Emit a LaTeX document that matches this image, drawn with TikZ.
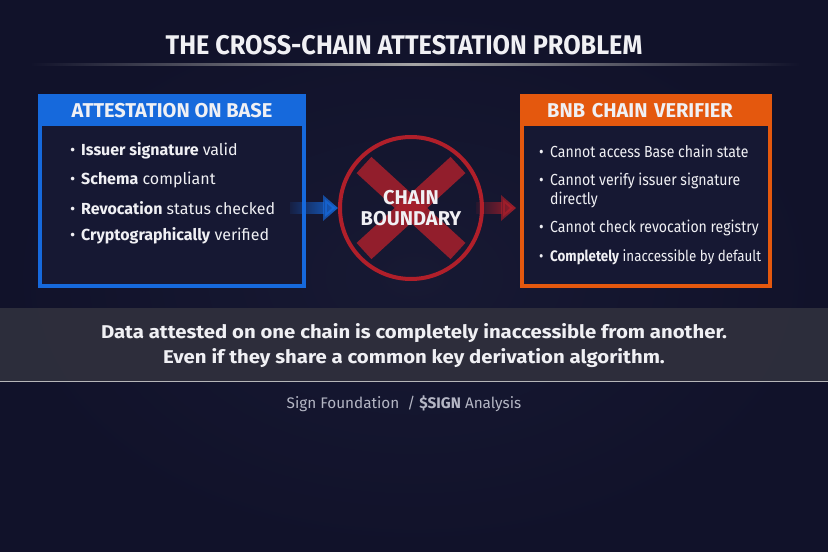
\documentclass[tikz,border=0pt]{standalone}
\usepackage{fontspec}
\setmainfont{Fira Sans}
\newfontfamily\condfont[FakeStretch=0.935]{Fira Sans}
\newfontfamily\narrowfont[FakeStretch=0.88]{Fira Sans}
\newfontfamily\widefont[FakeStretch=1.1]{Fira Sans}
\usetikzlibrary{arrows.meta,fadings,calc}

\definecolor{bgnavy}{HTML}{11122A}
\definecolor{bglight}{HTML}{171933}
\definecolor{panelbg}{HTML}{161833}
\definecolor{baseblue}{HTML}{1669DC}
\definecolor{bnborange}{HTML}{E4580E}
\definecolor{boundred}{HTML}{B01F2A}
\definecolor{xred}{HTML}{A8202C}
\definecolor{bandgray}{HTML}{30303D}
\definecolor{txtwhite}{HTML}{F0F0F4}
\definecolor{footgray}{HTML}{B4B6C4}

\newcommand{\bul}{\makebox[11pt][l]{\textbullet}}
\tikzfading[name=fadeleft, left color=transparent!100, right color=transparent!0]

\begin{document}
\begin{tikzpicture}[x=1pt,y=-1pt,
  panel/.style={draw, line width=4pt, fill=panelbg, minimum width=264,
    minimum height=190, inner sep=0},
  head/.style={anchor=north, minimum width=264, minimum height=32, inner sep=0,
    text=txtwhite, font=\fontsize{20}{22}\selectfont\bfseries},
  item/.style={anchor=west, inner sep=0, text=txtwhite,
    font=\fontsize{16}{18}\selectfont},
  ritem/.style={item, font=\narrowfont\fontsize{16}{18}\selectfont},
  boundary/.style={circle, draw=boundred, line width=4pt, minimum size=142, inner sep=0},
  xmark/.style={xred, line width=22pt, opacity=0.85},
  conn/.style={line width=12pt, -{Triangle[length=15pt,width=25pt]}, path fading=fadeleft}
]
  % background
  \shade[inner color=bglight, outer color=bgnavy] (0,0) rectangle (828,552);
  \useasboundingbox (0,0) rectangle (828,552);

  % title
  \node[text=txtwhite, font=\condfont\fontsize{27}{30}\selectfont\bfseries] (title)
    at (404,45) {THE CROSS-CHAIN ATTESTATION PROBLEM};
  \shade[left color=bgnavy, right color=bgnavy, middle color=gray!70] (30,63.5) rectangle (800,65);

  % left panel
  \node[panel, draw=baseblue] (base) at (172,191) {};
  \node[head, fill=baseblue] (basehead) at (base.north) {ATTESTATION ON BASE};
  \foreach \y/\t in {151/{\textbf{Issuer signature} valid},
                     180/{\textbf{Schema} compliant},
                     208/{\textbf{Revocation} status checked},
                     236/{\textbf{Cryptographically} verified}}
    \node[item] at (70,\y) {\bul\t};

  % right panel
  \node[panel, draw=bnborange, minimum width=248] (bnb) at (646,191) {};
  \node[head, fill=bnborange, minimum width=248, text width=248, align=center]
    (bnbhead) at (bnb.north) {\hspace*{-12pt}BNB CHAIN VERIFIER};
  \node[ritem] at (539,151) {\bul Cannot access Base chain state};
  \node[ritem] at (539,181) {\bul Cannot verify issuer signature};
  \node[ritem] at (539,200) {\hspace*{11pt}directly};
  \node[ritem] at (539,228) {\bul Cannot check revocation registry};
  \node[ritem, font=\narrowfont\fontsize{15.2}{18}\selectfont] at (539,257)
    {\bul\textbf{Completely} inaccessible by default};

  % chain boundary
  \node[boundary] (bound) at (411,208) {};
  \draw[xmark] ($(bound.center)+(-47,-43)$) -- ($(bound.center)+(47,43)$);
  \draw[xmark] ($(bound.center)+(47,-43)$) -- ($(bound.center)+(-47,43)$);
  \node[align=center, text=txtwhite, font=\fontsize{20}{21}\selectfont\bfseries] (boundlbl)
    at (bound.center) {CHAIN\\BOUNDARY};

  % connectors
  \draw[conn, baseblue] ($(base.east|-bound.west)+(-16,0)$) -- (bound.west);
  \draw[conn, boundred] ($(bound.east)+(-8,0)$) -- ($(bnb.west|-bound.east)+(-4,0)$);

  % message band
  \fill[bandgray, opacity=0.9] (0,308) rectangle (828,382);
  \fill[gray!30, opacity=0.8] (0,380.8) rectangle (828,382);
  \node[align=center, text=txtwhite, font=\widefont\fontsize{18.5}{25}\selectfont\bfseries] (msg)
    at (414,346) {Data attested on one chain is completely inaccessible from another.\\
    Even if they share a common key derivation algorithm.};

  % footer
  \node[text=footgray, font=\fontsize{15.3}{17}\selectfont] (foot) at (404,404)
    {Sign Foundation \ / \textbf{\$SIGN} Analysis};
\end{tikzpicture}
\end{document}
